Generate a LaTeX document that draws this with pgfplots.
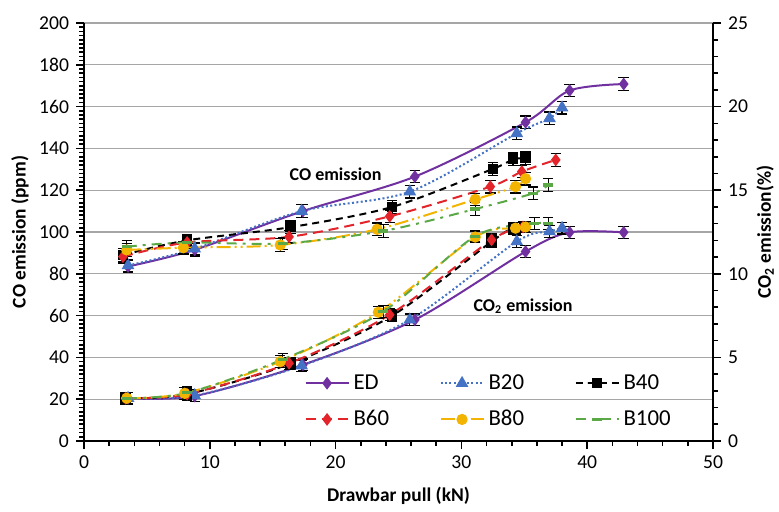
\documentclass[border=0pt]{standalone}
\usepackage{fontspec}
\setmainfont{Carlito}
\usepackage{pgfplots}
\pgfplotsset{compat=1.18}

\definecolor{cED}{HTML}{7030A0}
\definecolor{cB20}{HTML}{4472C4}
\definecolor{cB60}{HTML}{E3242B}
\definecolor{cB80}{HTML}{F2B400}
\definecolor{cB100}{HTML}{5BA846}
\definecolor{gridgray}{HTML}{A6A6A6}

\pgfplotsset{
  errs/.style={error bars/.cd, y dir=both, y fixed=#1,
    error bar style={black,line width=0.6pt,solid},
    error mark options={black,rotate=90,mark size=2.6pt,line width=0.6pt,solid}},
  sED/.style={cED,line width=1pt,solid,smooth,mark=diamond*,mark size=2.4pt,
    mark options={solid,fill=cED}},
  sB20/.style={cB20,line width=1pt,dash pattern=on 1pt off 1.2pt,smooth,
    mark=triangle*,mark size=2.7pt,mark options={solid,fill=cB20}},
  sB40/.style={black,line width=1pt,dash pattern=on 3.5pt off 2.5pt,smooth,
    mark=square*,mark size=2.1pt,mark options={solid,fill=black}},
  sB60/.style={cB60,line width=1pt,dash pattern=on 5pt off 3pt,smooth,
    mark=diamond*,mark size=2.4pt,mark options={solid,fill=cB60}},
  sB80/.style={cB80,line width=1pt,
    dash pattern=on 7pt off 2pt on 1pt off 2pt on 1pt off 2pt,smooth,
    mark=*,mark size=2.3pt,mark options={solid,fill=cB80}},
  sB100/.style={cB100,line width=1pt,dash pattern=on 5pt off 3pt on 1.5pt off 3pt,
    smooth,mark=-,mark size=2.5pt,mark options={solid,line width=1.6pt}},
  common/.style={
    at={(0,0)},anchor=south west,
    scale only axis,width=314.5pt,height=209pt,
    xmin=0,xmax=50,
    axis line style={black,line width=0.9pt,-},
    tick style={black,line width=0.8pt},
    major tick length=4pt,minor tick length=2.5pt,
    tick align=outside,
    tick label style={font=\fontsize{9.8}{11}\selectfont},
    /pgf/number format/assume math mode=true,
    label style={font=\bfseries\fontsize{9.7}{11}\selectfont},
    clip=false},
}

\begin{document}
\begin{tikzpicture}
\useasboundingbox (-42pt,-35pt) rectangle (347.5pt,220.5pt);
% CO (left axis)
\begin{axis}[common,
  ymin=0,ymax=200,
  xtick={0,10,...,50},minor x tick num=4,
  ytick={0,20,...,200},minor y tick num=9,
  axis x line*=bottom,axis y line*=left,
  ymajorgrids,grid style={gridgray,line width=0.6pt},
  xlabel={Drawbar pull (kN)},ylabel={CO emission (ppm)},
  xlabel style={at={(axis description cs:0.5,-0.13)},anchor=center},
  ylabel style={at={(axis description cs:-0.102,0.5)},anchor=center},
  legend columns=3,
  legend style={draw=none,fill=none,at={(axis cs:17.5,34)},anchor=north west,
    font=\fontsize{11.4}{13}\selectfont,row sep=5pt,inner sep=0pt,
    /tikz/every even column/.append style={column sep=20pt,text width=21pt}},
  legend cell align=left,
  legend image code/.code={\draw[mark repeat=2,mark phase=2]
    plot coordinates {(0pt,0pt) (10.75pt,0pt) (21.5pt,0pt)};},
]
\addplot[sED,errs=3] coordinates {
(3.5,83.5) (8.8,91.5) (17.4,110) (26.3,126.5) (35.1,152.5) (38.6,167.7) (42.9,170.8)};
\addlegendentry{ED}
\addplot[sB20,errs=3] coordinates {
(3.5,84) (8.8,92) (17.3,110) (25.9,119.3) (34.4,147.2) (37.0,154.4) (38.0,159.5)};
\addlegendentry{B20}
\addplot[sB40,errs=3] coordinates {
(3.1,89) (8.2,96) (16.4,102.3) (24.5,112) (32.5,130.2) (34.1,134.8) (35.1,135.3)};
\addlegendentry{B40}
\addplot[sB60,errs=3] coordinates {
(3.1,88.2) (8.2,95) (16.3,97.7) (24.3,107.5) (32.3,121.7) (34.8,128.9) (37.5,134.5)};
\addlegendentry{B60}
\addplot[sB80,errs=3] coordinates {
(3.4,91.4) (7.9,92.5) (15.6,93.8) (23.3,101.3) (31.1,115.6) (34.3,121.7) (35.1,125.5)};
\addlegendentry{B80}
\addplot[sB100,errs=3] coordinates {
(3.4,93) (8.2,95) (15.8,94.5) (23.8,100.5) (31.1,111) (35.7,118.5) (36.9,122.5)};
\addlegendentry{B100}
\node[font=\bfseries\fontsize{9}{11}\selectfont] at (axis cs:20,127.8) {CO emission};
\node[font=\bfseries\fontsize{9}{11}\selectfont] at (axis cs:34.9,64.6) {CO\textsubscript{2} emission};
\end{axis}
% CO2 (right axis)
\begin{axis}[common,
  ymin=0,ymax=25,
  axis x line=none,axis y line*=right,
  ytick={0,5,...,25},minor y tick num=4,
  ylabel={CO\textsubscript{2} emission(\%)},
  ylabel style={at={(axis description cs:1.083,0.5)},anchor=center},
]
\addplot[sED,errs=0.35] coordinates {
(3.5,2.56) (8.8,2.69) (17.4,4.56) (26.3,7.25) (35.1,11.33) (38.6,12.48) (42.9,12.48)};
\addplot[sB20,errs=0.35] coordinates {
(3.5,2.56) (8.8,2.72) (17.3,4.5) (25.9,7.25) (34.4,11.93) (37.0,12.53) (38.0,12.73)};
\addplot[sB40,errs=0.35] coordinates {
(3.3,2.56) (8.2,2.8) (16.4,4.63) (24.5,7.5) (32.4,11.93) (34.1,12.73) (35.0,12.8)};
\addplot[sB60,errs=0.35] coordinates {
(3.3,2.56) (8.2,2.8) (16.3,4.65) (24.3,7.55) (32.4,12.03) (34.9,12.8)};
\addplot[sB80,errs=0.35] coordinates {
(3.4,2.56) (8.0,2.85) (15.6,4.75) (23.4,7.7) (31.1,12.2) (34.3,12.73) (35.1,12.8)};
\addplot[sB100,errs=0.35] coordinates {
(3.4,2.56) (8.2,2.88) (15.8,4.88) (23.8,7.75) (31.1,12.25) (35.8,13.0) (36.9,13.0)};
\end{axis}
\end{tikzpicture}
\end{document}
